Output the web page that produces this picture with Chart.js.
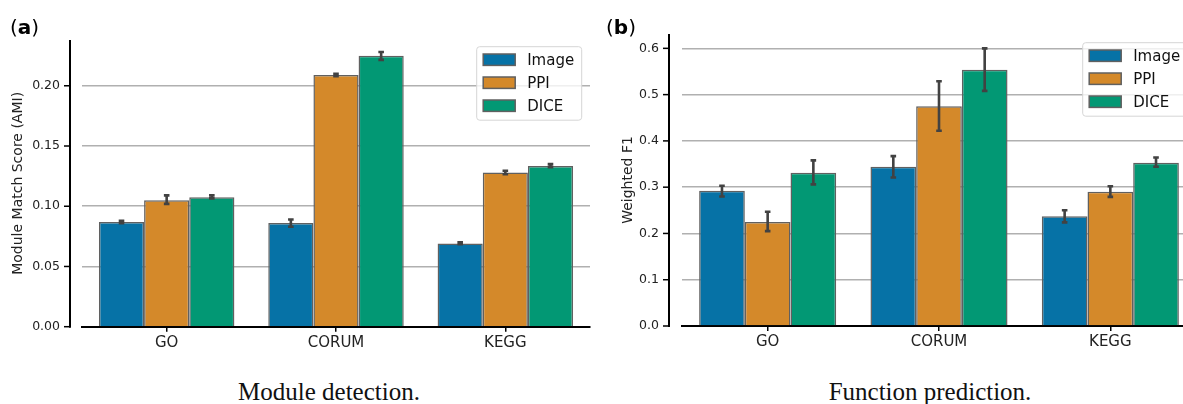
<!DOCTYPE html>
<html>
<head>
<meta charset="utf-8">
<script src="https://cdn.jsdelivr.net/npm/chart.js@4.4.1/dist/chart.umd.min.js"></script>
<style>
  body { margin: 0; overflow: hidden; background: #fff; }
  #wrap { position: relative; width: 1183px; height: 404px; overflow: hidden; }
  canvas { position: absolute; top: 0; }
  .panel { position: absolute; font: 20px 'DejaVu Sans'; line-height: 1; color: #000; }
  .caption { position: absolute; width: 600px; text-align: center; font: 25px 'Liberation Serif'; line-height: 1; color: #111; }
</style>
</head>
<body>
<div id="wrap">
  <canvas id="moduleChart" width="600" height="360" style="left:0"></canvas>
  <canvas id="functionChart" width="616" height="360" style="left:590px"></canvas>
  <div class="panel" style="left:10px;top:17px">(<b>a</b>)</div>
  <div class="panel" style="left:606px;top:17px">(<b>b</b>)</div>
  <div class="caption" style="left:29px;top:379px">Module detection.</div>
  <div class="caption" style="left:630px;top:379px">Function prediction.</div>
</div>
<script>
const categories = ['GO', 'CORUM', 'KEGG'];
const seriesNames = ['Image', 'PPI', 'DICE'];
const seriesColors = ['#0672a6', '#d4892a', '#029874'];

// (a) module detection, AMI
const moduleImage = [0.087, 0.086, 0.069];
const modulePPI = [0.105, 0.209, 0.128];
const moduleDICE = [0.1075, 0.225, 0.1335];
const moduleImageErr = [[0.086, 0.088], [0.083, 0.089], [0.0685, 0.070]];
const modulePPIErr = [[0.102, 0.109], [0.208, 0.210], [0.1265, 0.1295]];
const moduleDICEErr = [[0.1065, 0.109], [0.2215, 0.228], [0.1325, 0.135]];
const moduleTicks = [0, 0.05, 0.10, 0.15, 0.20];

// (b) function prediction, weighted F1
const funcImage = [0.292, 0.344, 0.237];
const funcPPI = [0.225, 0.475, 0.290];
const funcDICE = [0.331, 0.554, 0.353];
const funcImageErr = [[0.280, 0.303], [0.321, 0.367], [0.224, 0.250]];
const funcPPIErr = [[0.205, 0.247], [0.422, 0.529], [0.279, 0.302]];
const funcDICEErr = [[0.306, 0.358], [0.508, 0.600], [0.344, 0.364]];
const funcTicks = [0, 0.1, 0.2, 0.3, 0.4, 0.5, 0.6];

// y spine is offset to the left of the plot, seaborn despine style
const spinePlugin = {
  id: 'spine',
  beforeDatasetsDraw(chart, args, opts) {
    const {ctx, chartArea} = chart;
    const y = chart.scales.y;
    const x0 = chartArea.left - opts.offset;
    ctx.save();
    ctx.strokeStyle = '#000';
    ctx.lineWidth = 2;
    ctx.beginPath();
    ctx.moveTo(x0, chartArea.top);
    ctx.lineTo(x0, chartArea.bottom + 1);
    ctx.stroke();
    ctx.lineWidth = 1.5;
    y.ticks.forEach(t => {
      const py = y.getPixelForValue(t.value);
      ctx.beginPath();
      ctx.moveTo(x0 - 6, py);
      ctx.lineTo(x0, py);
      ctx.stroke();
    });
    ctx.restore();
  }
};

const errorBarPlugin = {
  id: 'errorBars',
  afterDatasetsDraw(chart) {
    const ctx = chart.ctx;
    const y = chart.scales.y;
    ctx.save();
    ctx.strokeStyle = '#424242';
    ctx.lineWidth = 2.6;
    chart.data.datasets.forEach((ds, i) => {
      chart.getDatasetMeta(i).data.forEach((bar, j) => {
        const [lo, hi] = ds.errorBars[j];
        const y0 = y.getPixelForValue(lo), y1 = y.getPixelForValue(hi);
        ctx.beginPath();
        ctx.moveTo(bar.x, y0); ctx.lineTo(bar.x, y1);
        ctx.moveTo(bar.x - 2.8, y0); ctx.lineTo(bar.x + 2.8, y0);
        ctx.moveTo(bar.x - 2.8, y1); ctx.lineTo(bar.x + 2.8, y1);
        ctx.stroke();
      });
    });
    ctx.restore();
  }
};

// framed legend in the upper right corner, like matplotlib's
const boxLegendPlugin = {
  id: 'boxLegend',
  afterDatasetsDraw(chart, args, opts) {
    const {ctx, chartArea} = chart;
    const w = 105, h = 73.5;
    const bx = chartArea.right - 8.3 - w, by = chartArea.top + opts.dy;
    ctx.save();
    ctx.beginPath();
    ctx.roundRect(bx, by, w, h, 3);
    ctx.fillStyle = 'rgba(255,255,255,0.8)';
    ctx.fill();
    ctx.strokeStyle = '#d6d6d6';
    ctx.lineWidth = 1;
    ctx.stroke();
    ctx.font = '15px "DejaVu Sans"';
    ctx.textBaseline = 'middle';
    chart.data.datasets.forEach((ds, i) => {
      const cy = by + 13 + i * 23;
      ctx.fillStyle = ds.backgroundColor;
      ctx.fillRect(bx + 6.5, cy - 5.7, 32, 11.4);
      ctx.strokeStyle = ds.borderColor;
      ctx.lineWidth = 1.5;
      ctx.strokeRect(bx + 6.5, cy - 5.7, 32, 11.4);
      ctx.fillStyle = '#111';
      ctx.fillText(ds.label, bx + 50.5, cy + 1);
    });
    ctx.restore();
  }
};

function makeChart(id, values, errors, yMax, ticks, digits, yTitle, geo) {
  const datasets = values.map((v, i) => ({
    label: seriesNames[i],
    data: v,
    errorBars: errors[i],
    backgroundColor: seriesColors[i],
    borderColor: '#606060',
    borderWidth: 1.5,
    categoryPercentage: 0.8,
    barPercentage: 1.0
  }));
  return new Chart(document.getElementById(id), {
    type: 'bar',
    data: { labels: categories, datasets: datasets },
    options: {
      responsive: false,
      animation: false,
      layout: { padding: { top: geo.top, right: geo.right, left: 0, bottom: 0 } },
      plugins: {
        legend: { display: false },
        tooltip: { enabled: false },
        spine: { offset: geo.spine },
        boxLegend: { dy: geo.legendDy }
      },
      scales: {
        x: {
          z: 1,
          afterFit: s => { s.height = geo.xHeight; },
          ticks: { font: { family: 'DejaVu Sans', size: 15 }, color: '#222', padding: 2 },
          grid: { offset: false, drawOnChartArea: false, tickLength: 5, color: '#000', lineWidth: 1.5 },
          border: { display: true, color: '#000', width: 2 }
        },
        y: {
          min: 0,
          max: yMax,
          afterFit: s => { s.width = geo.axisWidth; },
          afterBuildTicks: s => { s.ticks = ticks.map(v => ({ value: v })); },
          ticks: {
            callback: v => v.toFixed(digits),
            font: { family: 'DejaVu Sans', size: 12.5 },
            color: '#222',
            padding: geo.tickPad
          },
          grid: {
            drawTicks: false,
            color: c => (c.tick && c.tick.value === 0) ? 'rgba(0,0,0,0)' : '#b0b0b0',
            lineWidth: 1.6
          },
          border: { display: false },
          title: {
            display: true,
            text: yTitle,
            font: { family: 'DejaVu Sans', size: 14 },
            color: '#222',
            padding: { top: geo.titlePad, bottom: 0 }
          }
        }
      }
    },
    plugins: [spinePlugin, errorBarPlugin, boxLegendPlugin]
  });
}

makeChart('moduleChart',
  [moduleImage, modulePPI, moduleDICE],
  [moduleImageErr, modulePPIErr, moduleDICEErr],
  0.238, moduleTicks, 2, 'Module Match Score (AMI)',
  { top: 40, right: 10, xHeight: 33.3, axisWidth: 82, tickPad: 22, titlePad: 9.6, spine: 12, legendDy: 6.7 });

makeChart('functionChart',
  [funcImage, funcPPI, funcDICE],
  [funcImageErr, funcPPIErr, funcDICEErr],
  0.631, funcTicks, 1, 'Weighted F1',
  { top: 34, right: 10, xHeight: 34, axisWidth: 92, tickPad: 23, titlePad: 29.6, spine: 13, legendDy: 8.7 });
</script>
</body>
</html>
